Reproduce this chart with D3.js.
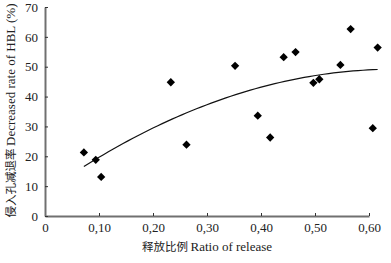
<!DOCTYPE html>
<html>
<head>
<meta charset="utf-8">
<script src="https://cdn.jsdelivr.net/npm/d3@7"></script>
<style>
  body { margin: 0; background: #fff; }
  svg { display: block; }
</style>
</head>
<body>
<div id="chart"></div>
<script>
const ratio = [0.072, 0.094, 0.104, 0.233, 0.262, 0.352, 0.394, 0.417, 0.442, 0.464, 0.497, 0.508, 0.547, 0.566, 0.607, 0.616];
const decrease = [21.3, 18.8, 13.1, 44.8, 23.9, 50.3, 33.6, 26.3, 53.2, 54.9, 44.6, 45.8, 50.6, 62.6, 29.4, 56.4];
const xTicks = [0, 0.1, 0.2, 0.3, 0.4, 0.5, 0.6];
const xTickLabels = ["0", "0,10", "0,20", "0,30", "0,40", "0,50", "0,60"];
const yTicks = [0, 10, 20, 30, 40, 50, 60, 70];

const serif = "'Liberation Serif', 'DejaVu Serif', serif";
const cjk = "'Noto Sans CJK SC', sans-serif";

const W = 391, H = 263;
const margin = { top: 7, right: 22, bottom: 47, left: 45 },
    width = W - margin.left - margin.right,
    height = H - margin.top - margin.bottom;

const data = ratio.map((r, i) => ({ r: r, v: decrease[i] }));

const svgRoot = d3.select("#chart").append("svg")
    .attr("width", W)
    .attr("height", H);

const svg = svgRoot.append("g")
    .attr("transform", `translate(${margin.left},${margin.top})`);

const x = d3.scaleLinear().domain([0, 0.6]).range([0, 324]);
const y = d3.scaleLinear().domain([0, 70]).range([height, 0]);

// X axis
const gx = svg.append("g")
    .attr("transform", `translate(0,${height})`)
    .call(d3.axisBottom(x).tickValues(xTicks).tickFormat((d, i) => xTickLabels[i])
        .tickSizeInner(-3).tickSizeOuter(0).tickPadding(7));
gx.select(".domain").attr("stroke", "#707070").attr("stroke-width", 2);
gx.selectAll(".tick line").attr("stroke", "#333");
gx.selectAll("text").style("font-family", serif).style("font-size", "13px").attr("fill", "#222");

// Y axis
const gy = svg.append("g")
    .call(d3.axisLeft(y).tickValues(yTicks)
        .tickSizeInner(-3).tickSizeOuter(0).tickPadding(7));
gy.select(".domain").attr("stroke", "#707070").attr("stroke-width", 2);
gy.selectAll(".tick line").attr("stroke", "#333");
gy.selectAll("text").style("font-family", serif).style("font-size", "13px").attr("fill", "#222");

// axis titles
const xt = svg.append("text")
    .attr("x", 162)
    .attr("y", height + 35)
    .attr("text-anchor", "middle")
    .style("font-size", "13px")
    .attr("fill", "#222");
xt.append("tspan").style("font-family", cjk).style("font-size", "11.5px").text("释放比例 ");
xt.append("tspan").style("font-family", serif).text("Ratio of release");

const yt = svg.append("text")
    .attr("transform", "rotate(-90)")
    .attr("x", -(height / 2) + 1)
    .attr("y", -30)
    .attr("text-anchor", "middle")
    .style("font-size", "13px")
    .attr("fill", "#222");
yt.append("tspan").style("font-family", cjk).style("font-size", "11.5px").text("侵入孔减退率 ");
yt.append("tspan").style("font-family", serif).text("Decreased rate of HBL (%)");

// quadratic least squares trend line
function quadFit(xs, ys) {
    let S = [0, 0, 0, 0, 0], T = [0, 0, 0];
    xs.forEach((xv, i) => {
        for (let k = 0; k < 5; k++) S[k] += Math.pow(xv, k);
        for (let k = 0; k < 3; k++) T[k] += ys[i] * Math.pow(xv, k);
    });
    const A = [[S[0], S[1], S[2], T[0]], [S[1], S[2], S[3], T[1]], [S[2], S[3], S[4], T[2]]];
    for (let c = 0; c < 3; c++) {
        for (let r = c + 1; r < 3; r++) {
            const f = A[r][c] / A[c][c];
            for (let k = c; k < 4; k++) A[r][k] -= f * A[c][k];
        }
    }
    const b = [0, 0, 0];
    for (let r = 2; r >= 0; r--) {
        let s = A[r][3];
        for (let k = r + 1; k < 3; k++) s -= A[r][k] * b[k];
        b[r] = s / A[r][r];
    }
    return b;
}
const coef = quadFit(ratio, decrease);
const xMin = d3.min(ratio), xMax = d3.max(ratio);
const trend = d3.range(0, 61).map(i => {
    const xv = xMin + (xMax - xMin) * i / 60;
    return { r: xv, v: coef[0] + coef[1] * xv + coef[2] * xv * xv };
});

svg.append("path")
    .datum(trend)
    .attr("fill", "none")
    .attr("stroke", "#111")
    .attr("stroke-width", 1.2)
    .attr("d", d3.line().x(d => x(d.r)).y(d => y(d.v)));

// points
svg.selectAll(".pt")
    .data(data)
    .enter().append("path")
    .attr("class", "pt")
    .attr("transform", d => `translate(${x(d.r)},${y(d.v)})`)
    .attr("d", d3.symbol(d3.symbolDiamond2, 44))
    .attr("fill", "#000");
</script>
</body>
</html>
